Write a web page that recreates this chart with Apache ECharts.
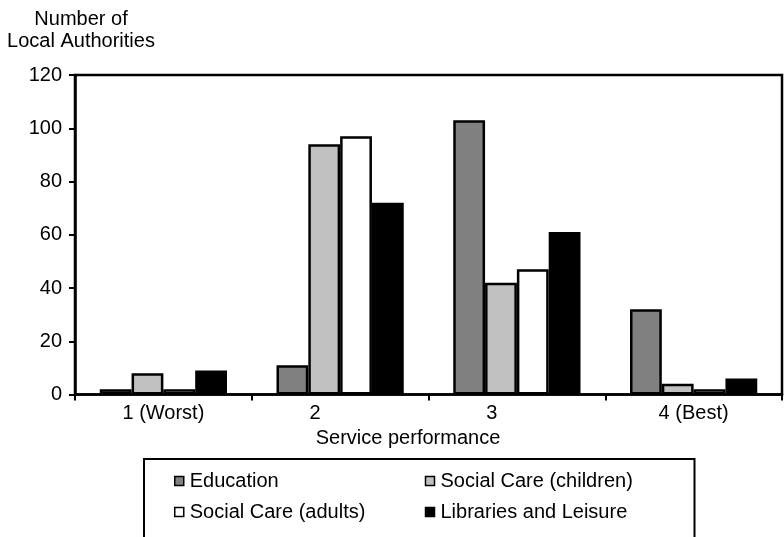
<!DOCTYPE html>
<html>
<head>
<meta charset="utf-8">
<script src="https://cdn.jsdelivr.net/npm/echarts@6/dist/echarts.min.js"></script>
<style>
  html, body { margin: 0; padding: 0; background: #fff; }
  #chart { width: 784px; height: 537px; }
</style>
</head>
<body>
<div id="chart"></div>
<script>
// Performance bands and the number of local authorities in each, by service
const categories = ['1 (Worst)', '2', '3', '4 (Best)'];
const education = [2, 11, 103, 32];
const socialCareChildren = [8, 94, 42, 4];
const socialCareAdults = [2, 97, 47, 2];
const librariesLeisure = [9, 72, 61, 6];
const yTicks = { min: 0, max: 120, interval: 20 };

const FONT = '"Liberation Sans", Arial, sans-serif';
const FS = 20;
const seriesDefs = [
  { name: 'Education', data: education, color: '#808080' },
  { name: 'Social Care (children)', data: socialCareChildren, color: '#c0c0c0' },
  { name: 'Social Care (adults)', data: socialCareAdults, color: '#ffffff' },
  { name: 'Libraries and Leisure', data: librariesLeisure, color: '#000000' }
];

const chart = echarts.init(document.getElementById('chart'), null, { renderer: 'canvas' });

chart.setOption({
  animation: false,
  backgroundColor: '#ffffff',
  textStyle: { fontFamily: FONT, color: '#000' },
  graphic: [{
    type: 'text',
    x: 81,
    y: 8,
    style: {
      text: 'Number of\nLocal Authorities',
      textAlign: 'center',
      fontFamily: FONT,
      fontSize: FS,
      lineHeight: 22,
      fill: '#000'
    }
  }],
  grid: {
    left: 75, right: 2, top: 75, bottom: 142.5,
    show: true,
    borderColor: '#000',
    borderWidth: 2.5,
    containLabel: false
  },
  legend: {
    left: 144,
    top: 459,
    width: 500,
    orient: 'horizontal',
    padding: [12, 30, 25, 30],
    borderColor: '#000',
    borderWidth: 2,
    itemGap: 11,
    itemWidth: 9,
    itemHeight: 9,
    icon: 'rect',
    itemStyle: { borderColor: '#000', borderWidth: 1.5 },
    formatter: name => '{t|' + name + '}',
    textStyle: {
      fontFamily: FONT,
      fontSize: FS,
      lineHeight: 20,
      color: '#000',
      rich: {
        t: { fontFamily: FONT, fontSize: FS, color: '#000', width: 224, lineHeight: 20, padding: [0, 0, 0, 1] }
      }
    },
    data: seriesDefs.map(s => s.name)
  },
  xAxis: {
    type: 'category',
    data: categories,
    boundaryGap: true,
    name: 'Service performance',
    nameLocation: 'middle',
    nameGap: 33.5,
    nameTextStyle: { fontFamily: FONT, fontSize: FS, color: '#000', padding: [0, 41, 0, 0] },
    axisLine: { show: true, lineStyle: { color: '#000', width: 2.5 } },
    axisTick: { show: true, inside: false, length: 6, alignWithLabel: false, lineStyle: { color: '#000', width: 2 } },
    axisLabel: {
      margin: 8.5,
      fontFamily: FONT,
      fontSize: FS,
      color: '#000',
      formatter: v => (v.length === 1 ? '{s|' + v + '}' : v),
      rich: { s: { fontFamily: FONT, fontSize: FS, color: '#000', padding: [0, 50, 0, 0] } }
    },
    splitLine: { show: false }
  },
  yAxis: {
    type: 'value',
    min: yTicks.min,
    max: yTicks.max,
    interval: yTicks.interval,
    axisLine: { show: true, lineStyle: { color: '#000', width: 2.5 } },
    axisTick: { show: true, inside: false, length: 6, lineStyle: { color: '#000', width: 2 } },
    axisLabel: { margin: 13, fontFamily: FONT, fontSize: FS, color: '#000' },
    splitLine: { show: false }
  },
  series: seriesDefs.map(s => ({
    name: s.name,
    type: 'bar',
    data: s.data,
    barGap: '0%',
    barCategoryGap: '28%',
    itemStyle: { color: s.color, borderColor: '#000', borderWidth: 2.5 },
    emphasis: { disabled: true }
  }))
});
</script>
</body>
</html>
